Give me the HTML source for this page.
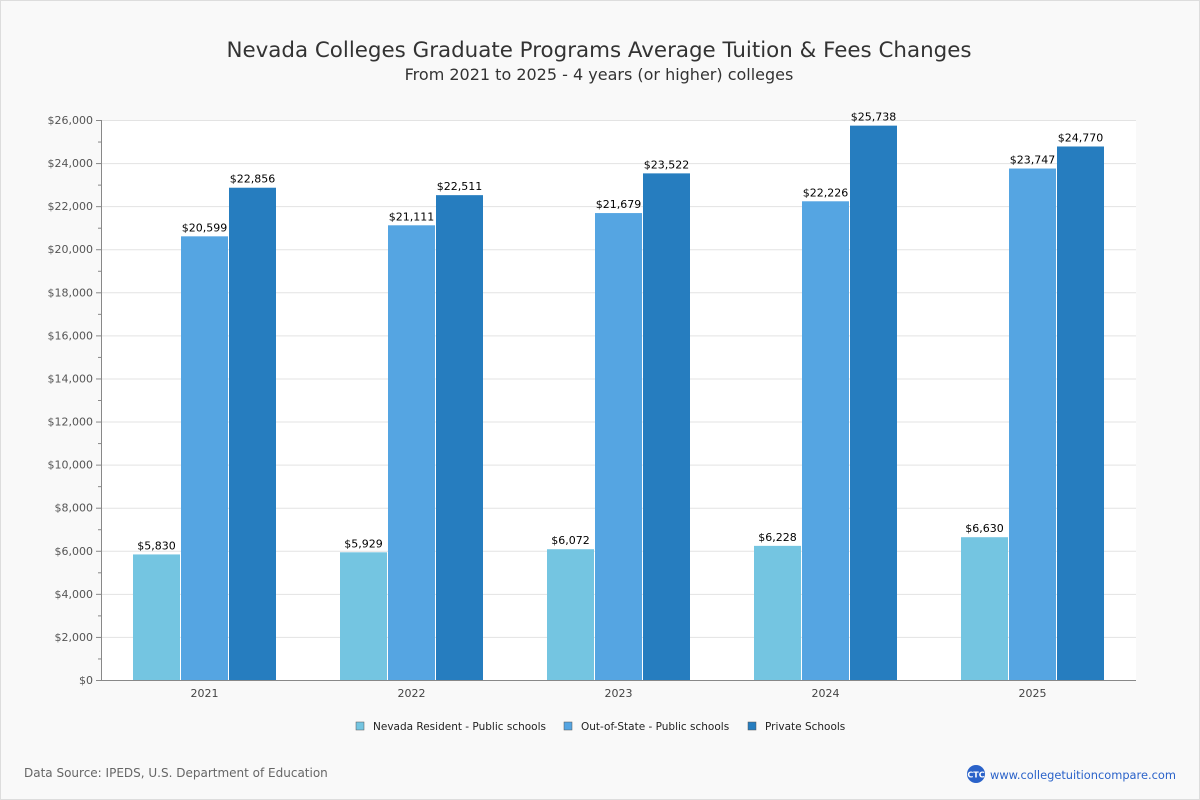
<!DOCTYPE html>
<html><head><meta charset="utf-8"><style>
body{margin:0;background:#fff}
#wrap{width:1198px;height:798px;border:1px solid #ddd;background:#f9f9f9;position:relative;font-family:"DejaVu Sans","Liberation Sans",sans-serif}
</style></head><body>
<div id="wrap">
<svg id="svg" width="1198" height="798" style="position:absolute;left:0;top:0">
<text x="598" y="56" text-anchor="middle" font-size="21.4" fill="#333">Nevada Colleges Graduate Programs Average Tuition &amp; Fees Changes</text>
<text x="598" y="79" text-anchor="middle" font-size="16" fill="#333">From 2021 to 2025 - 4 years (or higher) colleges</text>
<rect x="100" y="119" width="1035" height="560" fill="#fff"/>
<g id="grid"></g><g id="bars"></g><g id="axes"></g>
<g id="legend"></g>
<text x="23" y="776" font-size="12" fill="#666">Data Source: IPEDS, U.S. Department of Education</text>
<circle cx="975" cy="773" r="9" fill="#2a62c9"/>
<text x="975" y="776.5" text-anchor="middle" font-size="8" font-weight="bold" fill="#fff">CTC</text>
<text x="989" y="778" font-size="11.4" fill="#2a62c9">www.collegetuitioncompare.com</text>
</svg></div>
<script>
const categories=["2021","2022","2023","2024","2025"];
const seriesNames=["Nevada Resident - Public schools","Out-of-State - Public schools","Private Schools"];
const resident=[5830,5929,6072,6228,6630];
const outState=[20599,21111,21679,22226,23747];
const privateS=[22856,22511,23522,25738,24770];
const yTicks=[0,2000,4000,6000,8000,10000,12000,14000,16000,18000,20000,22000,24000,26000];
const colors=["#74c5e1","#55a5e2","#267dbf"];
const NS="http://www.w3.org/2000/svg";
const X0=100,W=1035,Y0=679,H=560,YMAX=26000;
const y=v=>Y0-v/YMAX*H;
const band=W/categories.length;
function mk(tag,attrs,parent,txt){const e=document.createElementNS(NS,tag);for(const k in attrs)e.setAttribute(k,attrs[k]);if(txt!==undefined)e.textContent=txt;parent.appendChild(e);return e;}
const fmt=v=>"$"+v.toLocaleString("en-US");
const grid=document.getElementById("grid"),axes=document.getElementById("axes"),bars=document.getElementById("bars"),leg=document.getElementById("legend");
yTicks.forEach(t=>{
 const g=mk("line",{x1:X0,x2:X0+W,y1:y(t)+0.5,y2:y(t)+0.5,stroke:"#e3e3e3"},grid);
 
 
 mk("line",{x1:X0-5,x2:X0,y1:y(t)+0.5,y2:y(t)+0.5,stroke:"#888"},axes);
 if(t<YMAX) mk("line",{x1:X0-3,x2:X0,y1:y(t+1000)+0.5,y2:y(t+1000)+0.5,stroke:"#888"},axes);
 const l=mk("text",{x:X0-8,y:y(t)+4,"text-anchor":"end","font-size":11,fill:"#555"},axes,fmt(t));
 
 
});
mk("line",{x1:X0+0.5,x2:X0+0.5,y1:Y0-H,y2:Y0,stroke:"#888"},axes);
mk("line",{x1:X0,x2:X0+W,y1:Y0+0.5,y2:Y0+0.5,stroke:"#888"},axes);
const data=[resident,outState,privateS];
const bw=47;
categories.forEach((c,i)=>{
 const cx=X0+band*(i+0.5);
 const xl=mk("text",{x:cx,y:Y0+17,"text-anchor":"middle","font-size":11,fill:"#444"},axes,c);
 
 
 data.forEach((s,j)=>{
  const bx=cx-bw*1.5-1+j*(bw+1);
  const r=mk("rect",{x:bx,y:y(s[i]),width:bw,height:Y0-y(s[i]),fill:colors[j]},bars);
  
  
  const vl=mk("text",{x:bx+bw/2,y:y(s[i])-5,"text-anchor":"middle","font-size":11,fill:"#000"},bars,fmt(s[i]));
  
  
 });
});
const lx=[355,563,747];
seriesNames.forEach((n,j)=>{
 const g=mk("g",{},leg);
 
 
 mk("rect",{x:lx[j],y:721,width:8,height:8,fill:colors[j],stroke:"#555","stroke-width":0.5},g);
 mk("text",{x:lx[j]+17,y:729,"font-size":10.5,fill:"#222"},g,n);
});
</script></body></html>
